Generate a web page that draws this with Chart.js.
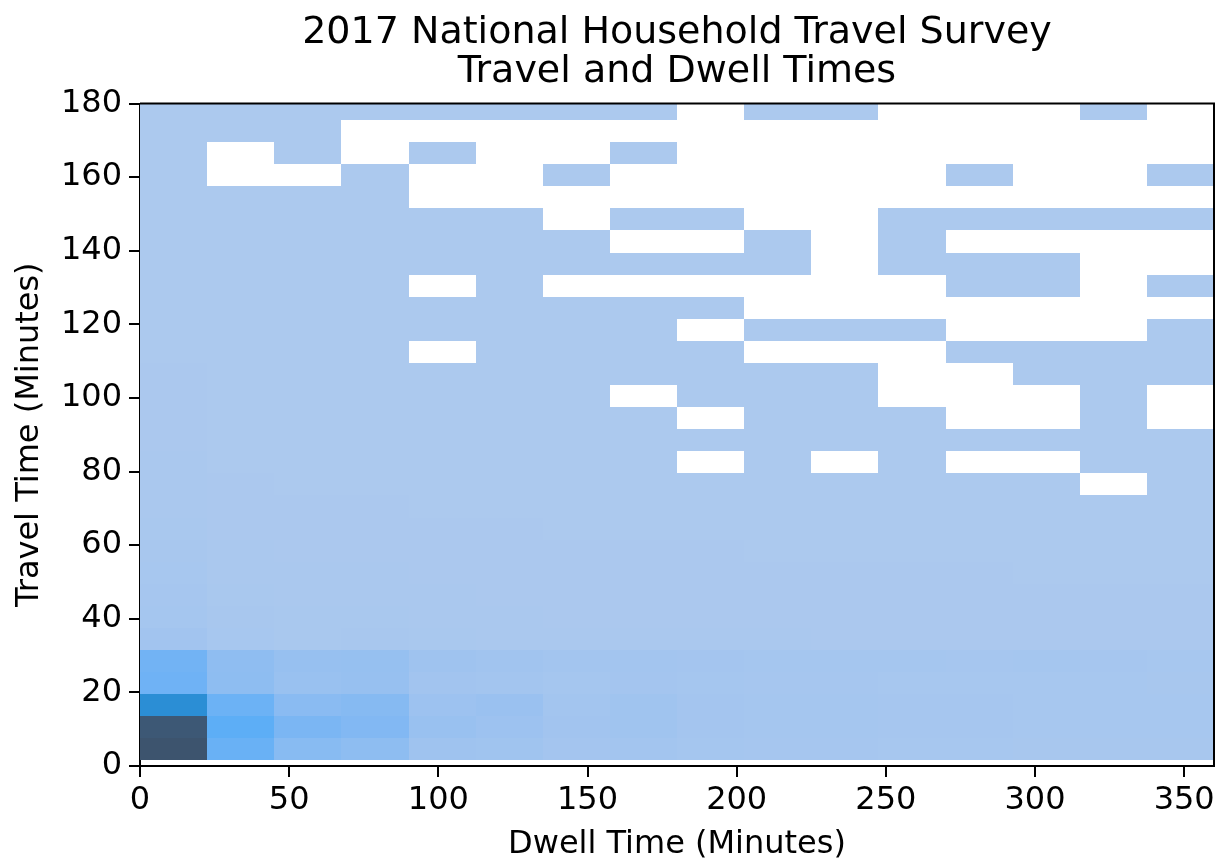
<!DOCTYPE html>
<html>
<head>
<meta charset="utf-8">
<title>2017 National Household Travel Survey</title>
<script src="https://cdn.jsdelivr.net/npm/chart.js@4.4.1/dist/chart.umd.min.js"></script>
<style>
  html, body { margin: 0; padding: 0; background: #fff; }
  canvas { display: block; }
</style>
</head>
<body>
<canvas id="travelDwellChart" width="1215" height="861"></canvas>
<script>
// Bin edges (minutes)
const dwellEdges = [0, 22.5, 45, 67.5, 90, 112.5, 135, 157.5, 180, 202.5, 225, 247.5, 270, 292.5, 315, 337.5, 360];
const travelEdges = [1.5, 7.5, 13.5, 19.5, 25.5, 31.5, 37.5, 43.5, 49.5, 55.5, 61.5, 67.5, 73.5, 79.5, 85.5, 91.5,
  97.5, 103.5, 109.5, 115.5, 121.5, 127.5, 133.5, 139.5, 145.5, 151.5, 157.5, 163.5, 169.5, 175.5, 181.5];

const xTicks = [0, 50, 100, 150, 200, 250, 300, 350];
const yTicks = [0, 20, 40, 60, 80, 100, 120, 140, 160, 180];

// Trip counts, one row per travel time bin (bottom to top), one column per dwell time bin. 0 = empty
const counts = [
  [1000, 222, 130, 112, 52, 48, 36, 38, 30, 28, 25, 24, 22, 20, 20, 18],
  [965, 250, 170, 152, 75, 62, 42, 48, 36, 32, 30, 27, 26, 23, 24, 21],
  [520, 212, 122, 140, 62, 68, 38, 50, 34, 31, 29, 26, 25, 23, 23, 21],
  [205, 112, 72, 80, 42, 38, 32, 33, 29, 27, 26, 24, 24, 22, 21, 19],
  [200, 110, 82, 84, 52, 44, 40, 38, 36, 32, 30, 31, 28, 30, 27, 24],
  [42, 22, 16, 17, 13, 11, 10, 10, 9, 9, 8, 8, 8, 7, 7, 7],
  [32, 17, 13, 13, 10, 9, 8, 8, 7, 7, 7, 6, 6, 6, 6, 5],
  [27, 14, 11, 11, 9, 8, 7, 7, 6, 6, 6, 5, 5, 5, 5, 5],
  [22, 12, 10, 10, 8, 7, 6, 6, 5, 5, 5, 5, 5, 4, 4, 4],
  [18, 10, 8, 8, 7, 6, 5, 5, 5, 4, 4, 4, 4, 4, 4, 4],
  [14, 8, 6, 6, 5, 5, 4, 4, 4, 3, 3, 3, 3, 3, 3, 3],
  [12, 6, 5, 5, 4, 4, 3, 3, 3, 3, 3, 3, 3, 3, 3, 3],
  [10, 5, 4, 4, 3, 3, 3, 3, 2, 2, 2, 2, 2, 2, 0, 2],
  [9, 4, 3, 3, 3, 3, 2, 2, 0, 2, 0, 2, 0, 0, 2, 2],
  [8, 4, 3, 3, 2, 2, 2, 2, 2, 2, 2, 2, 2, 2, 2, 2],
  [7, 3, 3, 2, 2, 2, 2, 2, 0, 1, 1, 1, 0, 0, 1, 0],
  [6, 3, 2, 2, 2, 2, 2, 0, 1, 1, 1, 0, 0, 0, 1, 0],
  [5, 3, 2, 2, 2, 2, 1, 1, 1, 1, 1, 0, 0, 1, 1, 1],
  [4, 2, 2, 2, 0, 1, 1, 1, 1, 0, 0, 0, 1, 1, 1, 1],
  [4, 2, 2, 1, 1, 1, 1, 1, 0, 1, 1, 1, 0, 0, 0, 1],
  [3, 2, 1, 1, 1, 1, 1, 1, 1, 0, 0, 0, 0, 0, 0, 0],
  [3, 2, 1, 1, 0, 1, 0, 0, 0, 0, 0, 0, 1, 1, 0, 1],
  [3, 1, 1, 1, 1, 1, 1, 1, 1, 1, 0, 1, 1, 1, 0, 0],
  [2, 1, 1, 1, 1, 1, 1, 0, 0, 1, 0, 1, 0, 0, 0, 0],
  [2, 1, 1, 1, 1, 1, 0, 1, 1, 0, 0, 1, 1, 1, 1, 1],
  [2, 1, 1, 1, 0, 0, 0, 0, 0, 0, 0, 0, 0, 0, 0, 0],
  [2, 0, 0, 1, 0, 0, 1, 0, 0, 0, 0, 0, 1, 0, 0, 1],
  [2, 0, 1, 0, 1, 0, 0, 1, 0, 0, 0, 0, 0, 0, 0, 0],
  [2, 1, 1, 0, 0, 0, 0, 0, 0, 0, 0, 0, 0, 0, 0, 0],
  [2, 1, 1, 1, 1, 1, 1, 1, 0, 1, 1, 0, 0, 0, 1, 0]
];

// --- seaborn style colormap (husl lightness ramp from a seed colour) ---
const M = [[3.2406, -1.5372, -0.4986], [-0.9689, 1.8758, 0.0415], [0.0557, -0.2040, 1.0570]];
const M_INV = [[0.4124, 0.3576, 0.1805], [0.2126, 0.7152, 0.0722], [0.0193, 0.1192, 0.9505]];
const REF_U = 0.19784, REF_V = 0.46834, LAB_E = 0.008856, LAB_K = 903.3;

function maxChroma(L, H) {
    const hrad = H * Math.PI / 180, sinH = Math.sin(hrad), cosH = Math.cos(hrad);
    const sub1 = Math.pow(L + 16, 3) / 1560896;
    const sub2 = sub1 > LAB_E ? sub1 : L / LAB_K;
    let result = Infinity;
    M.forEach(([m1, m2, m3]) => {
        const top = (0.99915 * m1 + 1.05122 * m2 + 1.14460 * m3) * sub2;
        const rbottom = 0.86330 * m3 - 0.17266 * m2;
        const lbottom = 0.12949 * m3 - 0.38848 * m1;
        const bottom = (rbottom * sinH + lbottom * cosH) * sub2;
        [0, 1].forEach(t => {
            const C = L * (top - 1.05122 * t) / (bottom + 0.17266 * sinH * t);
            if (C > 0 && C < result) result = C;
        });
    });
    return result;
}

const toLinear = c => c > 0.04045 ? Math.pow((c + 0.055) / 1.055, 2.4) : c / 12.92;
const fromLinear = c => c <= 0.0031308 ? 12.92 * c : 1.055 * Math.pow(c, 1 / 2.4) - 0.055;

function rgbToHusl(r, g, b) {
    const lin = [r, g, b].map(toLinear);
    const [X, Y, Z] = M_INV.map(row => row[0] * lin[0] + row[1] * lin[1] + row[2] * lin[2]);
    const denom = X + 15 * Y + 3 * Z;
    const L = Y > LAB_E ? 116 * Math.cbrt(Y) - 16 : 116 * (7.787 * Y + 16 / 116) - 16;
    const U = 13 * L * (4 * X / denom - REF_U);
    const V = 13 * L * (9 * Y / denom - REF_V);
    let H = Math.atan2(V, U) * 180 / Math.PI;
    if (H < 0) H += 360;
    return [H, Math.hypot(U, V) / maxChroma(L, H) * 100, L];
}

function huslToRgb(H, S, L) {
    const C = maxChroma(L, H) / 100 * S;
    const hrad = H * Math.PI / 180;
    const U = Math.cos(hrad) * C, V = Math.sin(hrad) * C;
    const t = (L + 16) / 116;
    const Y = t * t * t > LAB_E ? t * t * t : (116 * t - 16) / LAB_K;
    const varU = U / (13 * L) + REF_U, varV = V / (13 * L) + REF_V;
    const X = -(9 * Y * varU) / ((varU - 4) * varV - varU * varV);
    const Z = (9 * Y - 15 * varV * Y - varV * X) / (3 * varV);
    return M.map(row => fromLinear(row[0] * X + row[1] * Y + row[2] * Z))
        .map(c => Math.round(Math.min(1, Math.max(0, c)) * 255));
}

const [seedH, seedS] = rgbToHusl(0x1f / 255, 0x77 / 255, 0xb4 / 255);
const cmap = [];
for (let i = 0; i < 256; i++) {
    const xx = -1 + 2 * i / 293;
    cmap.push('rgb(' + huslToRgb(seedH, seedS * Math.cos(xx), 35 + 45 * i / 255).join(',') + ')');
}
cmap.reverse();

const nonZero = counts.flat().filter(v => v > 0);
const vmin = Math.min(...nonZero), vmax = Math.max(...nonZero);
function colorFor(v) {
    const idx = Math.min(255, Math.floor((v - vmin) / (vmax - vmin) * 256));
    return cmap[idx];
}

// cell centres as scatter points (not shown), cells are painted by the plugin below
const cellPoints = [];
counts.forEach((row, r) => row.forEach((v, c) => {
    if (v > 0) cellPoints.push({ x: (dwellEdges[c] + dwellEdges[c + 1]) / 2, y: (travelEdges[r] + travelEdges[r + 1]) / 2, v: v });
}));

const histCells = {
    id: 'histCells',
    afterLayout(chart) {
        // centre the title over the plot area, like matplotlib does
        const t = chart.titleBlock;
        if (t) {
            t.left = chart.chartArea.left;
            t.right = chart.chartArea.right;
            t.width = t.right - t.left;
        }
    },
    beforeDatasetsDraw(chart) {
        const { ctx, chartArea, scales: { x, y } } = chart;
        ctx.save();
        ctx.beginPath();
        ctx.rect(chartArea.left, chartArea.top, chartArea.right - chartArea.left, chartArea.bottom - chartArea.top);
        ctx.clip();
        counts.forEach((row, r) => {
            row.forEach((v, c) => {
                if (!v) return;
                const x0 = Math.round(x.getPixelForValue(dwellEdges[c]));
                const x1 = Math.round(x.getPixelForValue(dwellEdges[c + 1]));
                const y0 = Math.round(y.getPixelForValue(travelEdges[r]));
                const y1 = Math.round(y.getPixelForValue(travelEdges[r + 1]));
                ctx.fillStyle = colorFor(v);
                ctx.fillRect(x0, y1, x1 - x0, y0 - y1);
            });
        });
        ctx.restore();
    },
    afterDraw(chart) {
        // top and right spines
        const { ctx, chartArea } = chart;
        ctx.save();
        ctx.strokeStyle = '#000';
        ctx.lineWidth = 2;
        ctx.beginPath();
        ctx.moveTo(chartArea.left, chartArea.top);
        ctx.lineTo(chartArea.right, chartArea.top);
        ctx.lineTo(chartArea.right, chartArea.bottom);
        ctx.stroke();
        ctx.restore();
    }
};

Chart.defaults.font.family = "'DejaVu Sans', sans-serif";
Chart.defaults.color = '#000';

const ctx = document.getElementById('travelDwellChart').getContext('2d');
new Chart(ctx, {
    type: 'scatter',
    data: {
        datasets: [{
            label: 'Trips',
            data: cellPoints,
            pointRadius: 0,
            pointHoverRadius: 0
        }]
    },
    options: {
        responsive: false,
        animation: false,
        devicePixelRatio: 1,
        events: [],
        layout: { padding: { left: 0, right: 1, top: 0, bottom: 0 } },
        plugins: {
            legend: { display: false },
            tooltip: { enabled: false },
            title: {
                display: true,
                text: ['2017 National Household Travel Survey', 'Travel and Dwell Times'],
                color: '#000',
                font: { size: 38, weight: 'normal', lineHeight: 1.02 },
                padding: { top: 14, bottom: 12 }
            }
        },
        scales: {
            x: {
                type: 'linear',
                min: 0,
                max: 360,
                afterFit: (s) => { s.height = 95; s.paddingLeft = 0; s.paddingRight = 0; },
                afterBuildTicks: (s) => { s.ticks = xTicks.map(v => ({ value: v })); },
                ticks: { color: '#000', font: { size: 32 }, padding: 4, maxRotation: 0 },
                grid: { drawOnChartArea: false, drawTicks: true, tickLength: 11, color: '#000', lineWidth: 2 },
                border: { display: true, color: '#000', width: 2 },
                title: { display: true, text: 'Dwell Time (Minutes)', color: '#000', font: { size: 32, lineHeight: 1.0 }, padding: { top: 0, bottom: 0 } }
            },
            y: {
                type: 'linear',
                min: 0,
                max: 180,
                afterFit: (s) => { s.width = 140; },
                afterBuildTicks: (s) => { s.ticks = yTicks.map(v => ({ value: v })); },
                ticks: { color: '#000', font: { size: 32 }, padding: 7 },
                grid: { drawOnChartArea: false, drawTicks: true, tickLength: 11, color: '#000', lineWidth: 2 },
                border: { display: true, color: '#000', width: 2 },
                title: { display: true, text: 'Travel Time (Minutes)', color: '#000', font: { size: 32, lineHeight: 1.0 }, padding: { top: 14, bottom: 0 } }
            }
        }
    },
    plugins: [histCells]
});
</script>
</body>
</html>
